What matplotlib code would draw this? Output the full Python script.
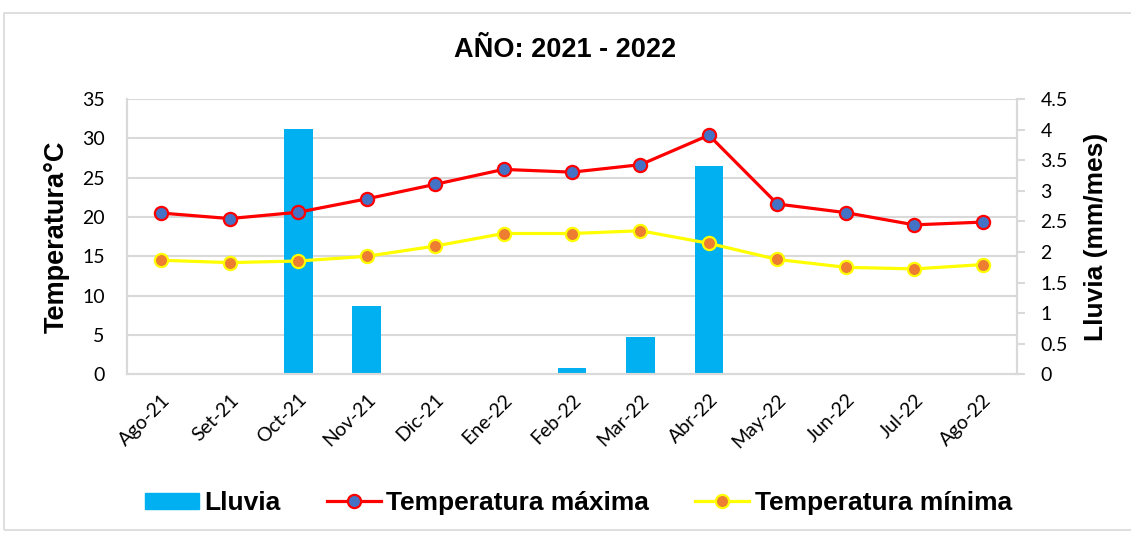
import numpy as np
import matplotlib.pyplot as plt
from matplotlib.patches import Rectangle

plt.rcParams['font.family'] = ['Liberation Sans', 'DejaVu Sans']

meses = ["Ago-21", "Set-21", "Oct-21", "Nov-21", "Dic-21", "Ene-22", "Feb-22",
         "Mar-22", "Abr-22", "May-22", "Jun-22", "Jul-22", "Ago-22"]
lluvia = [0, 0, 4.01, 1.11, 0, 0, 0.11, 0.61, 3.41, 0, 0, 0, 0]
t_max = [20.5, 19.8, 20.6, 22.3, 24.15, 26.05, 25.7, 26.65, 30.4, 21.65, 20.55, 19.0, 19.35]
t_min = [14.5, 14.2, 14.4, 15.0, 16.3, 17.9, 17.9, 18.25, 16.65, 14.6, 13.6, 13.4, 13.95]
ticks_lluvia = ["0", "0.5", "1", "1.5", "2", "2.5", "3", "3.5", "4", "4.5"]

x = np.arange(len(meses))
gris = "#D9D9D9"
tick_font = {"family": ["Lato", "DejaVu Sans"], "size": 14}

fig = plt.figure(figsize=(11.31, 5.33), dpi=100)
fig.patches.append(Rectangle((4/1131, 3/533), 1.0, 517/533, transform=fig.transFigure,
                             fill=False, edgecolor=gris, linewidth=1.2))

ax = fig.add_axes([127/1131, 1 - 374.3/533, 890/1131, 275.3/533])
ax2 = ax.twinx()

# barras en eje derecho, lineas en eje izquierdo
ax.set_zorder(ax2.get_zorder() + 1)
ax.patch.set_visible(False)

ax2.bar(x, lluvia, width=0.42, color="#00B0F0", zorder=2)
ax2.set_ylim(0, 4.5)
ax2.set_yticks(np.arange(0, 4.51, 0.5))
ax2.set_yticklabels(ticks_lluvia, fontdict=tick_font)

ax.plot(x, t_max, color="#FF0000", lw=2.3, marker="o", ms=9.5, mfc="#4472C4",
        mec="#FF0000", mew=1.6, zorder=3)
ax.plot(x, t_min, color="#FFFF00", lw=2.3, marker="o", ms=9.5, mfc="#ED7D31",
        mec="#FFFF00", mew=1.6, zorder=3)

ax.set_xlim(-0.5, len(meses) - 0.5)
ax.set_ylim(0, 35)
ax.set_yticks(np.arange(0, 36, 5))
ax.set_yticklabels([str(v) for v in range(0, 36, 5)], fontdict=tick_font)
for v in np.arange(5, 36, 5):
    ax2.axhline(v * 4.5 / 35, color=gris, lw=1.5, zorder=0)

ax.set_xticks(x)
ax.set_xticklabels(meses, rotation=45, ha="right", rotation_mode="anchor", fontdict=tick_font)
ax.tick_params(axis="x", length=0, pad=12)
ax.tick_params(axis="y", length=0, pad=16)
ax2.tick_params(axis="y", length=6, color=gris, width=1.5, pad=11)

for a in (ax, ax2):
    for s in a.spines.values():
        s.set_color(gris)
        s.set_linewidth(1.5)
    a.spines["top"].set_visible(False)

ax.set_ylabel("Temperatura°C", fontsize=19.5, fontweight="bold", va="center")
ax.yaxis.set_label_coords(-0.0787, 0.5)
ax2.set_ylabel("Lluvia (mm/mes)", fontsize=19, fontweight="bold", va="center")
ax2.yaxis.set_label_coords(1.0888, 0.5)

fig.text(0.5, 1 - 50/533, "AÑO: 2021 - 2022", ha="center", va="center",
         fontsize=19.5, fontweight="bold")

h_bar = Rectangle((0, 0), 1, 1, color="#00B0F0")
h_max = plt.Line2D([], [], color="#FF0000", lw=2.3, marker="o", ms=9.5, mfc="#4472C4",
                   mec="#FF0000", mew=1.6)
h_min = plt.Line2D([], [], color="#FFFF00", lw=2.3, marker="o", ms=9.5, mfc="#ED7D31",
                   mec="#FFFF00", mew=1.6)
fig.legend([h_bar, h_max, h_min], ["Lluvia", "Temperatura máxima", "Temperatura mínima"],
           loc="center", bbox_to_anchor=(0.5115, 1 - 503/533), ncol=3, frameon=False,
           prop={"size": 19, "weight": "bold"}, handlelength=2.05, handleheight=0.55,
           handletextpad=0.2, columnspacing=1.75)

fig.savefig("out.png", dpi=100)
